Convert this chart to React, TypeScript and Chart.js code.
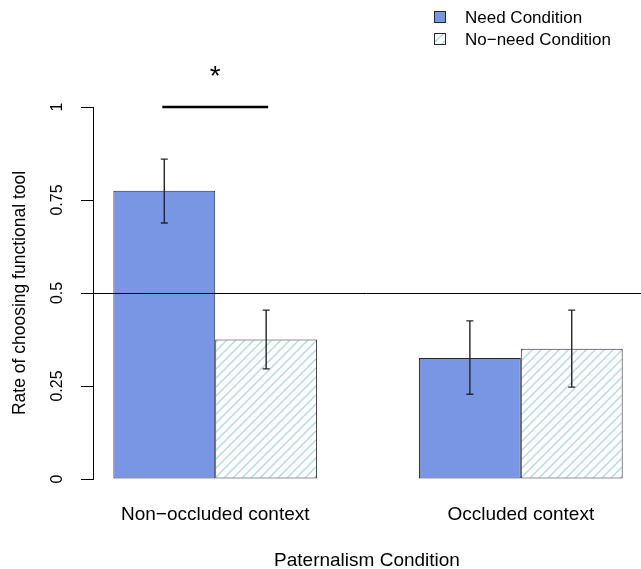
import { useEffect, useRef } from 'react';
import { Chart, registerables } from 'chart.js';

Chart.register(...registerables);

// ---------- data ----------
const categories = ['Non\u2212occluded context', 'Occluded context'];
const categoryPositions = [2, 5];
const seriesNames = ['Need Condition', 'No\u2212need Condition'];
const needValues = [0.775, 0.325];
const noNeedValues = [0.375, 0.35];
const needLower = [0.688, 0.228];
const needUpper = [0.86, 0.425];
const noNeedLower = [0.296, 0.247];
const noNeedUpper = [0.454, 0.454];
const yTickValues = [0, 0.25, 0.5, 0.75, 1];
const yTickLabels = ['0', '0.25', '0.5', '0.75', '1'];
const referenceLevel = 0.5;
const significanceGroup = 0;
const significanceLevel = 1;
const significanceLabel = '*';
const xAxisTitle = 'Paternalism Condition';
const yAxisTitle = 'Rate of choosing functional tool';

const FONT = '"Liberation Sans", Arial, Helvetica, sans-serif';
const NEED_COLOR = '#7896e4';
const HATCH_COLOR = '#b4dae2';
const EDGE = '#262626';

function makeHatch(spacing: number, line: string): CanvasPattern | string {
  const c = document.createElement('canvas');
  c.width = spacing;
  c.height = spacing;
  const g = c.getContext('2d');
  if (!g) return '#ffffff';
  g.fillStyle = '#ffffff';
  g.fillRect(0, 0, spacing, spacing);
  g.strokeStyle = line;
  g.lineWidth = 1.5;
  g.beginPath();
  g.moveTo(-2, spacing + 2);
  g.lineTo(spacing + 2, -2);
  g.moveTo(-2, 2);
  g.lineTo(2, -2);
  g.moveTo(spacing - 2, spacing + 2);
  g.lineTo(spacing + 2, spacing - 2);
  g.stroke();
  const p = g.createPattern(c, 'repeat');
  return p || '#ffffff';
}

export default function App() {
  const ref = useRef<HTMLCanvasElement | null>(null);

  useEffect(() => {
    if (!ref.current) return;
    const hatch = makeHatch(9, HATCH_COLOR);
    const lowers = [needLower, noNeedLower];
    const uppers = [needUpper, noNeedUpper];

    const overlay = {
      id: 'overlay',
      afterDatasetsDraw(chart: any) {
        const { ctx, chartArea } = chart;
        const y = chart.scales.y;
        ctx.save();
        // reference line
        const yr = Math.round(y.getPixelForValue(referenceLevel)) + 0.5;
        ctx.strokeStyle = '#000';
        ctx.lineWidth = 1;
        ctx.beginPath();
        ctx.moveTo(chartArea.left - 1, yr);
        ctx.lineTo(chartArea.right, yr);
        ctx.stroke();
        // error bars
        ctx.strokeStyle = '#262626';
        ctx.lineWidth = 1.4;
        for (let d = 0; d < 2; d++) {
          const meta = chart.getDatasetMeta(d);
          meta.data.forEach((el: any, j: number) => {
            const x = el.x;
            const y1 = y.getPixelForValue(lowers[d][j]);
            const y2 = y.getPixelForValue(uppers[d][j]);
            ctx.beginPath();
            ctx.moveTo(x, y1);
            ctx.lineTo(x, y2);
            ctx.moveTo(x - 3.5, y1);
            ctx.lineTo(x + 3.5, y1);
            ctx.moveTo(x - 3.5, y2);
            ctx.lineTo(x + 3.5, y2);
            ctx.stroke();
          });
        }
        // significance bracket
        const a = chart.getDatasetMeta(0).data[significanceGroup];
        const b = chart.getDatasetMeta(1).data[significanceGroup];
        const ys = y.getPixelForValue(significanceLevel);
        ctx.strokeStyle = '#000';
        ctx.lineWidth = 2.5;
        ctx.beginPath();
        ctx.moveTo(a.x - 2, ys);
        ctx.lineTo(b.x + 2, ys);
        ctx.stroke();
        ctx.fillStyle = '#000';
        ctx.font = `28px ${FONT}`;
        ctx.textAlign = 'center';
        ctx.textBaseline = 'middle';
        ctx.fillText(significanceLabel, (a.x + b.x) / 2, ys - 30);
        // legend
        const fills = [NEED_COLOR, hatch];
        const rows = [17, 39];
        ctx.font = `17px ${FONT}`;
        ctx.textAlign = 'left';
        for (let i = 0; i < 2; i++) {
          ctx.fillStyle = fills[i] as any;
          ctx.fillRect(435, rows[i] - 5, 11, 11);
          ctx.strokeStyle = EDGE;
          ctx.lineWidth = 1;
          ctx.strokeRect(434.5, rows[i] - 5.5, 11, 11);
          ctx.fillStyle = '#000';
          ctx.fillText(seriesNames[i], 465, rows[i] + 1);
        }
        ctx.restore();
      },
    };

    const chart = new Chart(ref.current, {
      type: 'bar',
      data: {
        datasets: [
          {
            label: seriesNames[0],
            data: categoryPositions.map((x, i) => ({ x, y: needValues[i] })),
            backgroundColor: NEED_COLOR,
            borderColor: EDGE,
            borderWidth: 1,
            borderSkipped: false,
          },
          {
            label: seriesNames[1],
            data: categoryPositions.map((x, i) => ({ x, y: noNeedValues[i] })),
            backgroundColor: hatch as any,
            borderColor: EDGE,
            borderWidth: 1,
            borderSkipped: false,
          },
        ],
      },
      options: {
        responsive: false,
        animation: false,
        events: [],
        layout: { padding: { top: 107, left: 0, right: 0, bottom: 0 } },
        datasets: { bar: { categoryPercentage: 2 / 3, barPercentage: 1 } },
        plugins: {
          legend: { display: false },
          tooltip: { enabled: false },
          title: { display: false },
        },
        scales: {
          x: {
            type: 'linear',
            offset: false,
            min: 0.8,
            max: 6.18,
            afterBuildTicks: (scale: any) => {
              scale.ticks = categoryPositions.map((v) => ({ value: v }));
            },
            afterFit: (scale: any) => {
              scale.height = 90;
            },
            grid: { display: false, drawTicks: false, offset: false },
            border: { display: false },
            ticks: {
              autoSkip: false,
              maxRotation: 0,
              minRotation: 0,
              padding: 24,
              color: '#000',
              font: { family: FONT, size: 19 },
              callback: (_v: any, i: number) => categories[i],
            },
            title: {
              display: true,
              text: xAxisTitle,
              color: '#000',
              font: { family: FONT, size: 19, lineHeight: 1 },
              padding: { top: 0, bottom: -1.5 },
            },
          },
          y: {
            type: 'linear',
            min: 0,
            max: 1,
            afterBuildTicks: (scale: any) => {
              scale.ticks = yTickValues.map((v) => ({ value: v }));
            },
            afterFit: (scale: any) => {
              scale.width = 93;
            },
            grid: {
              drawOnChartArea: false,
              drawTicks: true,
              tickLength: 12,
              color: '#000',
              lineWidth: 1,
            },
            border: { display: true, color: '#000', width: 1 },
            ticks: {
              autoSkip: false,
              minRotation: 90,
              maxRotation: 90,
              crossAlign: 'center',
              padding: 8,
              color: '#000',
              font: { family: FONT, size: 16 },
              callback: (_v: any, i: number) => yTickLabels[i],
            },
            title: {
              display: true,
              text: yAxisTitle,
              color: '#000',
              font: { family: FONT, size: 17.5, lineHeight: 1 },
              padding: { top: 11, bottom: 0 },
            },
          },
        },
      },
      plugins: [overlay],
    } as any);

    return () => chart.destroy();
  }, []);

  return (
    <div style={{ position: 'fixed', left: 0, top: 0, width: 641, height: 569, background: '#fff' }}>
      <canvas ref={ref} width={641} height={569} style={{ display: 'block' }} />
    </div>
  );
}
